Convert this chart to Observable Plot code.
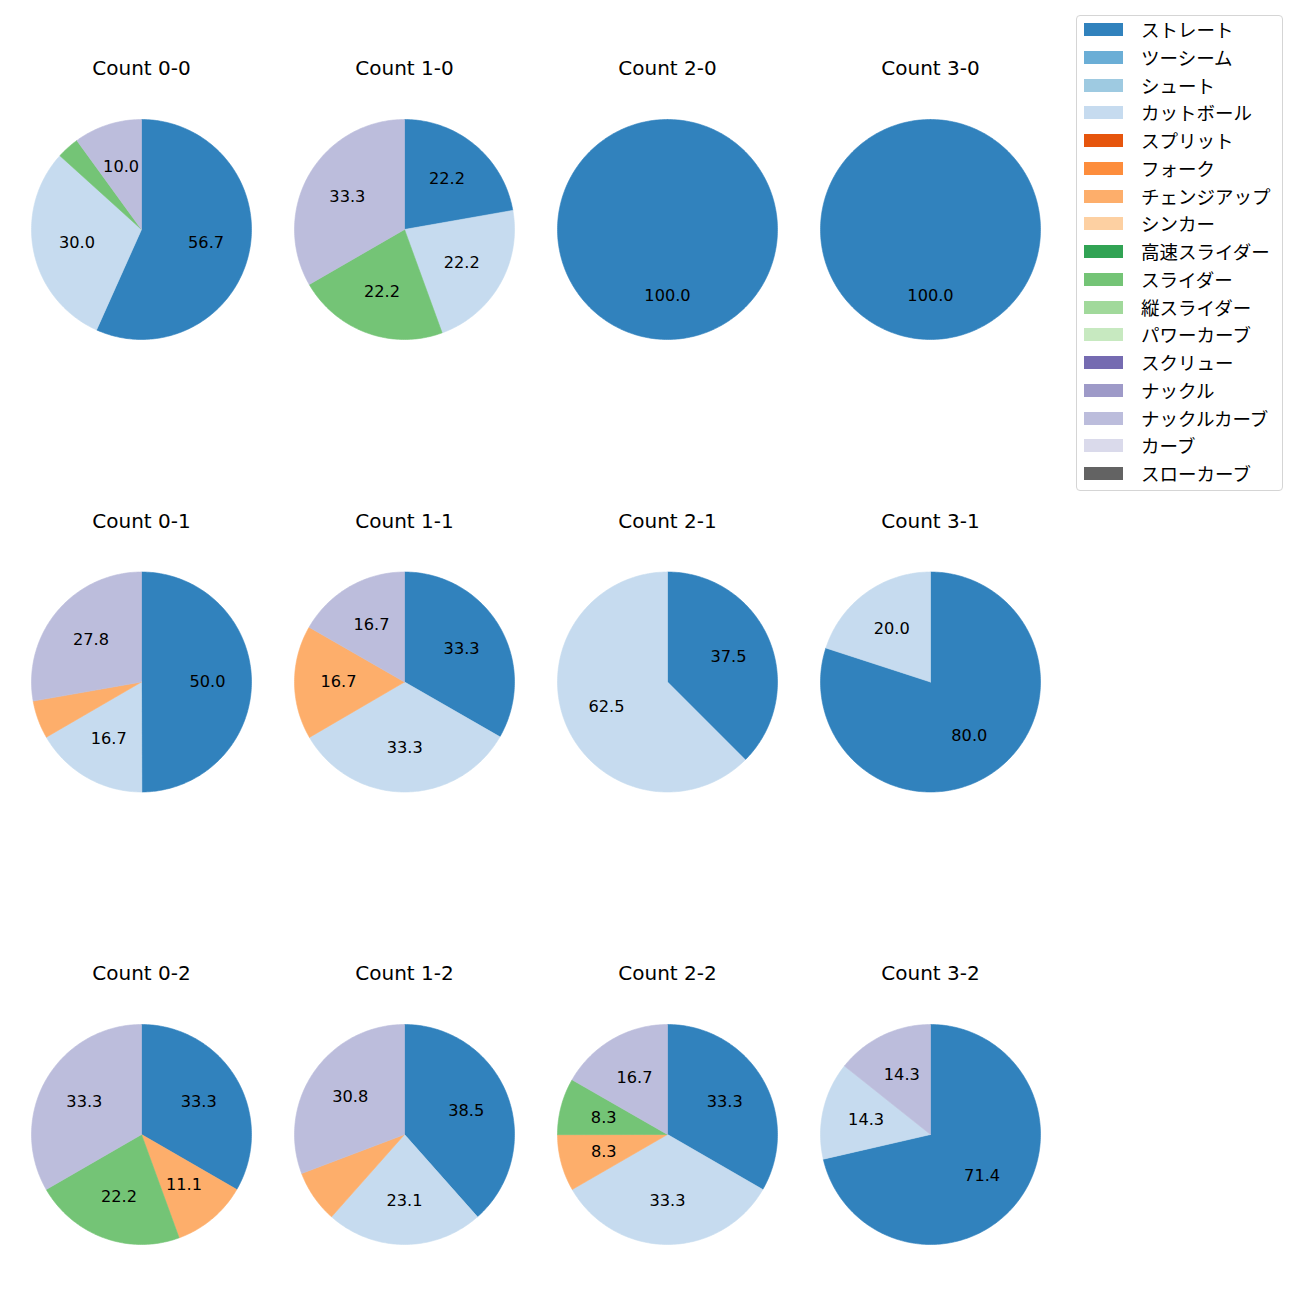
<!DOCTYPE html>
<html>
<head>
<meta charset="utf-8">
<script src="https://cdn.jsdelivr.net/npm/d3@7"></script>
<script src="https://cdn.jsdelivr.net/npm/@observablehq/plot@0.6"></script>
<style>
  html, body { margin: 0; padding: 0; background: #fff; }
  #wrap { position: relative; width: 1300px; height: 1300px; font-family: "Noto Sans CJK JP", "Noto Sans", sans-serif; }
  #legend { position: absolute; left: 1076px; top: 15px; width: 205px; height: 474px; border: 1px solid #d5d5d5; border-radius: 4px; background: #fff; box-sizing: content-box; }
  .item { position: absolute; left: 0; height: 14px; }
  .sw { position: absolute; left: 7px; width: 39px; height: 13px; }
  .lab { position: absolute; left: 64px; font-size: 18.5px; line-height: 18px; white-space: nowrap; color: #000; top: -3px; }
</style>
</head>
<body>
<div id="wrap"><div id="chart"></div><div id="legend"></div></div>
<script>
// Legend categories and colours (tab20c)
const pitchTypes = ["ストレート","ツーシーム","シュート","カットボール","スプリット","フォーク","チェンジアップ","シンカー","高速スライダー","スライダー","縦スライダー","パワーカーブ","スクリュー","ナックル","ナックルカーブ","カーブ","スローカーブ"];
const pitchColors = ["#3182bd","#6baed6","#9ecae1","#c6dbef","#e6550d","#fd8d3c","#fdae6b","#fdd0a2","#31a354","#74c476","#a1d99b","#c7e9c0","#756bb1","#9e9ac8","#bcbddc","#dadaeb","#636363"];

// Pitch types present in the pies (clockwise order)
const usedPitches = ["ストレート","カットボール","チェンジアップ","スライダー","ナックルカーブ"];

// Counts: balls (column) and strikes (row)
const countBalls   = [0,1,2,3, 0,1,2,3, 0,1,2,3];
const countStrikes = [0,0,0,0, 1,1,1,1, 2,2,2,2];

// Percentages per count, in usedPitches order
const pctStraight  = [56.7, 22.2, 100, 100, 50.0, 33.3, 37.5, 80.0, 33.3, 38.5, 33.3, 71.4];
const pctCutter    = [30.0, 22.2,   0,   0, 16.7, 33.3, 62.5, 20.0,  0.0, 23.1, 33.3, 14.3];
const pctChangeup  = [ 0.0,  0.0,   0,   0,  5.6, 16.7,  0.0,  0.0, 11.1,  7.7,  8.3,  0.0];
const pctSlider    = [ 3.3, 22.2,   0,   0,  0.0,  0.0,  0.0,  0.0, 22.2,  0.0,  8.3,  0.0];
const pctKnuckleCv = [10.0, 33.3,   0,   0, 27.8, 16.7,  0.0,  0.0, 33.3, 30.8, 16.7, 14.3];
const seriesPct = [pctStraight, pctCutter, pctChangeup, pctSlider, pctKnuckleCv];

// Layout (in radius units)
const R = 110;                 // pie radius in px
const colStep = 263 / R;
const rowStep = 452.5 / R;
const labelThreshold = 8;

const wedges = [];
const labels = [];
const titles = [];
countBalls.forEach((b, i) => {
  const s = countStrikes[i];
  const cx = b * colStep, cy = s * rowStep;
  titles.push({x: cx, y: cy - 160.5 / R, text: `Count ${b}-${s}`});
  const vals = seriesPct.map(a => a[i]);
  const total = d3.sum(vals);
  let start = 0;
  vals.forEach((v, k) => {
    if (v <= 0) return;
    const a0 = start / total * 2 * Math.PI;
    const a1 = (start + v) / total * 2 * Math.PI;
    start += v;
    const key = `${i}-${k}`;
    const pitch = usedPitches[k];
    const n = Math.max(2, Math.ceil((a1 - a0) / (Math.PI / 180)));
    const full = a1 - a0 >= 2 * Math.PI - 1e-6;
    if (!full) wedges.push({key, pitch, x: cx, y: cy});
    for (let j = 0; j <= n; j++) {
      const a = a0 + (a1 - a0) * j / n;
      wedges.push({key, pitch, x: cx + Math.sin(a), y: cy - Math.cos(a)});
    }
    if (!full) wedges.push({key, pitch, x: cx, y: cy});
    if (v >= labelThreshold) {
      const am = (a0 + a1) / 2;
      labels.push({x: cx + 0.6 * Math.sin(am), y: cy - 0.6 * Math.cos(am), text: v.toFixed(1)});
    }
  });
});

const chart = Plot.plot({
  width: 1300,
  height: 1300,
  margin: 0,
  style: {fontFamily: '"DejaVu Sans", "Noto Sans CJK JP", sans-serif', background: "transparent"},
  x: {domain: [-141 / R, (1300 - 141) / R], range: [0, 1300], axis: null},
  y: {domain: [-229 / R, (1300 - 229) / R], range: [0, 1300], axis: null},
  color: {domain: pitchTypes, range: pitchColors},
  marks: [
    Plot.line(wedges, {x: "x", y: "y", z: "key", fill: "pitch", stroke: "pitch", strokeWidth: 0.6, curve: "linear"}),
    Plot.text(labels, {x: "x", y: "y", text: "text", fontSize: 16.2, fill: "#000"}),
    Plot.text(titles, {x: "x", y: "y", text: "text", fontSize: 20, fill: "#000"})
  ]
});
document.getElementById("chart").appendChild(chart);

// Legend
const legend = document.getElementById("legend");
pitchTypes.forEach((p, i) => {
  const item = document.createElement("div");
  item.className = "item";
  item.style.top = (7 + i * 27.75) + "px";
  item.style.width = "100%";
  const sw = document.createElement("div");
  sw.className = "sw";
  sw.style.background = pitchColors[i];
  const lab = document.createElement("div");
  lab.className = "lab";
  lab.textContent = p;
  item.appendChild(sw);
  item.appendChild(lab);
  legend.appendChild(item);
});
</script>
</body>
</html>
